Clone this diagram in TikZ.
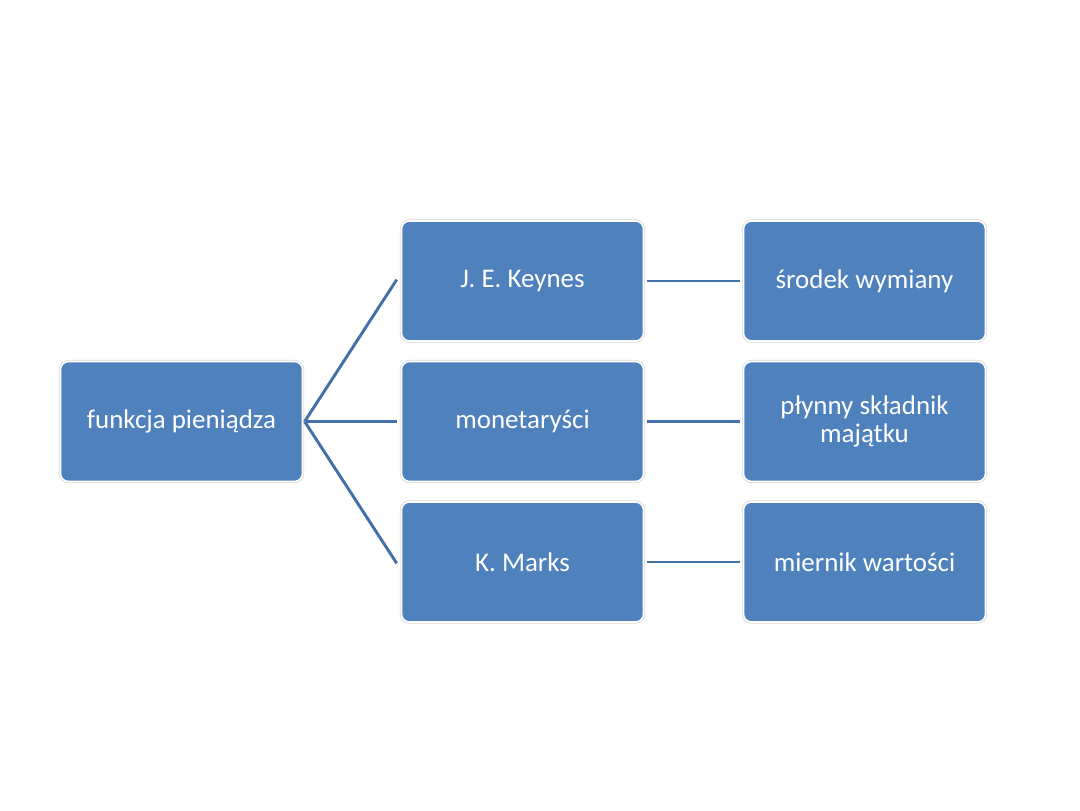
\documentclass[tikz,border=0pt]{standalone}
\usepackage{fontspec}
\setmainfont{Carlito}
\definecolor{boxblue}{HTML}{4F81BD}
\definecolor{lineblue}{HTML}{4270A8}
\definecolor{edgegray}{HTML}{D9D9D9}
\begin{document}
\begin{tikzpicture}[x=0.75pt,y=-0.75pt,
  blk/.style={draw=white, line width=1.2pt, fill=boxblue, rounded corners=6pt,
    minimum width=181.5pt, minimum height=90pt, text=white, align=center,
    font=\fontsize{20.2}{20.5}\selectfont, inner sep=2pt,
    preaction={draw=edgegray, line width=2.4pt, rounded corners=6pt}},
  conn/.style={draw=lineblue, line width=2.2pt}]
\useasboundingbox[fill=white] (0,0) rectangle (1080,810);
\node[blk] (root) at (181.5,421.5) {funkcja pieniądza};
\node[blk] (k) at (522.5,281) {J. E. Keynes};
\node[blk] (m) at (522.5,421.5) {monetaryści};
\node[blk] (x) at (522.5,562) {K. Marks};
\node[blk] (k2) at (864.5,281) {środek wymiany};
\node[blk] (m2) at (864.5,421.5) {płynny składnik\\majątku};
\node[blk] (x2) at (864.5,562) {miernik wartości};
\coordinate (s) at ([xshift=1pt]root.east);
\draw[conn] (s) -- ([xshift=-3pt,yshift=1pt]k.west);
\draw[conn] (s) -- ([xshift=-3pt]m.west);
\draw[conn] (s) -- ([xshift=-3pt,yshift=-1pt]x.west);
\draw[conn] ([xshift=2pt]k.east) -- ([xshift=-2pt]k2.west);
\draw[conn] ([xshift=2pt]m.east) -- ([xshift=-2pt]m2.west);
\draw[conn] ([xshift=2pt]x.east) -- ([xshift=-2pt]x2.west);
\end{tikzpicture}
\end{document}
